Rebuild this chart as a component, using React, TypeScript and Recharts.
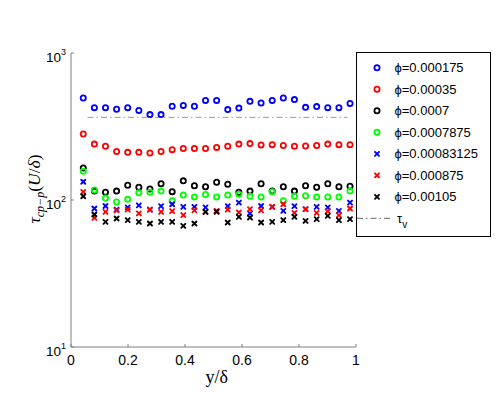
import React from 'react';
import { ScatterChart, Scatter, XAxis, YAxis, ReferenceLine, Legend } from 'recharts';

// y/δ positions of the samples
const yDelta = [0.043, 0.082, 0.121, 0.160, 0.199, 0.238, 0.277, 0.316, 0.355, 0.394, 0.433, 0.472, 0.511,
  0.550, 0.589, 0.628, 0.667, 0.706, 0.745, 0.784, 0.823, 0.862, 0.901, 0.940, 0.979];

const phi000175 = [494, 425, 425, 414, 425, 407, 381, 381, 434, 440, 434, 476, 476, 412, 422, 469, 457, 476, 494, 482, 427, 432, 425, 425, 454];
const phi00035 = [281, 240, 232, 214, 211, 211, 209, 214, 220, 224, 224, 224, 228, 232, 240, 242, 237, 238, 235, 232, 233, 235, 240, 238, 238];
const phi0007 = [165, 115, 113, 115, 126, 122, 119, 129, 114, 135, 125, 123, 132, 128, 113, 115, 129, 115, 123, 115, 125, 122, 129, 123, 124];
const phi00078750 = [157, 117, 103, 97, 101, 112, 113, 115, 99, 108, 105, 109, 105, 108, 109.5, 106, 105, 114, 99, 106, 107, 105, 105, 105, 115];
const phi00083125 = [133, 87.5, 91, 86, 89, 92, 86, 90.8, 93.6, 89.8, 89.8, 89, 84, 90.8, 96, 81, 91, 89.8, 84.3, 90.8, 86.6, 89.8, 89, 84.3, 96];
const phi000875 = [113.5, 75.5, 83, 85, 86, 81, 86, 83, 84, 79, 85, 83, 84, 86, 82.3, 86.6, 84.9, 89.8, 93.6, 81.7, 86.6, 81.7, 84, 78.9, 87.5];
const phi00105 = [106, 79.7, 71, 74.8, 73, 71, 69.2, 71, 71, 66.7, 69.2, 83, 83, 70.3, 76.8, 76, 70.3, 71, 73, 76.8, 72.1, 74.1, 78, 73, 74.1];

const seriesNames = ['ϕ=0.000175', 'ϕ=0.00035', 'ϕ=0.0007', 'ϕ=0.0007875', 'ϕ=0.00083125', 'ϕ=0.000875', 'ϕ=0.00105'];
const seriesValues = [phi000175, phi00035, phi0007, phi00078750, phi00083125, phi000875, phi00105];
const seriesColors = ['#0000ff', '#ff0000', '#000000', '#00ff00', '#0000ff', '#ff0000', '#000000'];
const seriesMarkers = ['circle', 'circle', 'circle', 'circle', 'cross', 'cross', 'cross'];

const tauV = 365;
const tauVRange = [0.058, 0.97];
const tauVName = 'τ';
const tauVSub = 'v';

const xTicks = [0, 0.2, 0.4, 0.6, 0.8, 1];
const yMajorTicks = [10, 100, 1000];
const yMinorTicks = [20, 30, 40, 50, 60, 70, 80, 90, 200, 300, 400, 500, 600, 700, 800, 900];

const AXIS = '#808080';
const FONT = '"Liberation Sans", Arial, sans-serif';
const SERIF = '"Liberation Serif", "Times New Roman", serif';

const marker = (kind: string, color: string, cx: number, cy: number) =>
  kind === 'circle' ? (
    <circle cx={cx} cy={cy} r={2.6} fill="none" stroke={color} strokeWidth={1.8} />
  ) : (
    <g stroke={color} strokeWidth={1.9} strokeLinecap="round">
      <line x1={cx - 2} y1={cy - 2} x2={cx + 2} y2={cy + 2} />
      <line x1={cx - 2} y1={cy + 2} x2={cx + 2} y2={cy - 2} />
    </g>
  );

const XTick = (props: any) => (
  <text x={props.x} y={props.y} textAnchor="middle" fill="#000" fontSize={14} fontFamily={FONT}>
    {String(props.payload.value)}
  </text>
);

const YTick = (props: any) => (
  <text x={props.x} y={props.y + 9} textAnchor="end" fill="#000" fontSize={13.5} fontFamily={FONT}>
    10
    <tspan dy={-7} fontSize={9}>{String(Math.round(Math.log10(props.payload.value)))}</tspan>
  </text>
);

const XLabel = () => (
  <text x={216.7} y={383} textAnchor="middle" fill="#000" fontSize={18} fontFamily={SERIF}>
    y/δ
  </text>
);

const YLabel = () => (
  <text transform="translate(40,189) rotate(-90)" textAnchor="middle" fill="#000" fontSize={17.5} fontFamily={SERIF}>
    <tspan fontStyle="italic">τ</tspan>
    <tspan fontStyle="italic" fontSize={12} dy={4}>cp−p</tspan>
    <tspan dy={-4}>(</tspan>
    <tspan fontStyle="italic">U</tspan>
    <tspan>/</tspan>
    <tspan fontStyle="italic">δ</tspan>
    <tspan>)</tspan>
  </text>
);

const LegendBox = () => {
  const rowY = (i: number) => 14.8 + 21.5 * i;
  return (
    <div style={{ width: 135, height: 185, boxSizing: 'border-box', border: '1px solid #000', background: '#fff' }}>
      <svg width={133} height={183} style={{ display: 'block' }}>
        {seriesNames.map((name, i) => (
          <g key={name}>
            {marker(seriesMarkers[i], seriesColors[i], 20, rowY(i))}
            <text x={37.5} y={rowY(i) + 4.6} fontSize={13} fontFamily={FONT} fill="#000">{name}</text>
          </g>
        ))}
        <line x1={0} y1={rowY(7)} x2={33} y2={rowY(7)} stroke="#666" strokeWidth={1} strokeDasharray="6 3 1.5 3" />
        <text x={40} y={rowY(7) + 4.2} fontSize={13} fontFamily={FONT} fill="#000">
          {tauVName}
          <tspan fontSize={10} dy={5}>{tauVSub}</tspan>
        </text>
      </svg>
    </div>
  );
};

export default function App() {
  return (
    <div style={{ position: 'absolute', left: 0, top: 0, width: 498, height: 393, background: '#fff', fontFamily: FONT }}>
      <ScatterChart width={498} height={393} margin={{ top: 53, right: 142, bottom: 0, left: 0 }}>
        <XAxis xAxisId="top" orientation="top" type="number" domain={[0, 1]} ticks={xTicks} height={0}
          tick={false} tickSize={-3} stroke={AXIS} interval={0} />
        <XAxis xAxisId="b" dataKey="x" type="number" domain={[0, 1]} ticks={xTicks} height={46}
          tickSize={-3} tickMargin={21} stroke={AXIS} tick={<XTick />} interval={0} label={<XLabel />} />
        <YAxis yAxisId="minL" orientation="left" type="number" scale="log" domain={[10, 1000]} ticks={yMinorTicks}
          width={0} tick={false} tickSize={-2} axisLine={false} stroke={AXIS} interval={0} />
        <YAxis yAxisId="main" orientation="left" dataKey="y" type="number" scale="log" domain={[10, 1000]}
          ticks={yMajorTicks} width={71} tickSize={-3} tickMargin={8} stroke={AXIS} tick={<YTick />}
          interval={0} allowDataOverflow label={<YLabel />} />
        <YAxis yAxisId="minR" orientation="right" type="number" scale="log" domain={[10, 1000]} ticks={yMinorTicks}
          width={0} tick={false} tickSize={-2} axisLine={false} stroke={AXIS} interval={0} />
        <YAxis yAxisId="r" orientation="right" type="number" scale="log" domain={[10, 1000]} ticks={yMajorTicks}
          width={0} tick={false} tickSize={-3} stroke={AXIS} interval={0} />
        <ReferenceLine xAxisId="b" yAxisId="main" stroke="#999" strokeWidth={1} strokeDasharray="6 3 1.5 3"
          segment={[{ x: tauVRange[0], y: tauV }, { x: tauVRange[1], y: tauV }]} />
        {seriesNames.map((name, i) => (
          <Scatter key={name} name={name} xAxisId="b" yAxisId="main" isAnimationActive={false}
            data={yDelta.map((x, k) => ({ x, y: seriesValues[i][k] }))}
            shape={(p: any) => marker(seriesMarkers[i], seriesColors[i], p.cx, p.cy)} />
        ))}
        <Legend layout="horizontal" align="center" verticalAlign="middle" content={<LegendBox />}
          wrapperStyle={{ left: 356, top: 52, width: 135, height: 185 }} />
      </ScatterChart>
    </div>
  );
}
